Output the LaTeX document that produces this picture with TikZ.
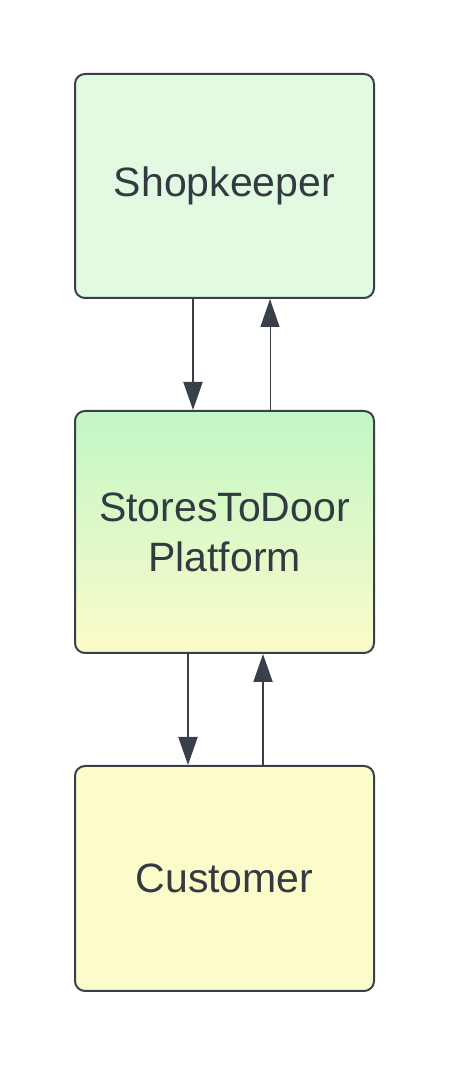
\documentclass[tikz,border=0pt]{standalone}
\usepackage{fontspec}
\setmainfont{Liberation Sans}
\usetikzlibrary{arrows.meta}
\definecolor{linegray}{RGB}{57, 64, 73}
\definecolor{textgray}{RGB}{52, 58, 66}
\definecolor{palegreen}{RGB}{226, 250, 226}
\definecolor{mintgreen}{RGB}{194, 246, 198}
\definecolor{paleyellow}{RGB}{252, 251, 202}

\begin{document}
\begin{tikzpicture}[x=1pt, y=1pt,
    box/.style={draw=linegray, line width=2pt, rounded corners=10pt, minimum width=299pt, align=center,
        text=textgray, font=\fontsize{41}{48}\selectfont},
    flow/.style={draw=linegray, line width=2pt, -{Triangle[length=28pt, width=19pt]}}]
    \useasboundingbox (0, 0) rectangle (450, 1067);

    % Boxes, top to bottom
    \node[box, fill=palegreen, minimum height=224pt] (shop) at (224.5, 881) {Shopkeeper};
    \node[box, top color=mintgreen, bottom color=paleyellow, minimum height=242pt] (plat) at (224.5, 535) {\raisebox{2pt}{StoresToDoor}\\Platform};
    \node[box, fill=paleyellow, minimum height=225pt] (cust) at (224.5, 188.5) {Customer};

    % Shopkeeper <-> platform
    \draw[flow] ([xshift=-31.5pt]shop.south) -- ([xshift=-31.5pt]plat.north);
    \draw[flow, line width=1pt] ([xshift=45.5pt]plat.north) -- ([xshift=45.5pt]shop.south);

    % Platform <-> customer
    \draw[flow] ([xshift=-36.5pt]plat.south) -- ([xshift=-36.5pt]cust.north);
    \draw[flow] ([xshift=38.5pt]cust.north) -- ([xshift=38.5pt]plat.south);
\end{tikzpicture}
\end{document}
